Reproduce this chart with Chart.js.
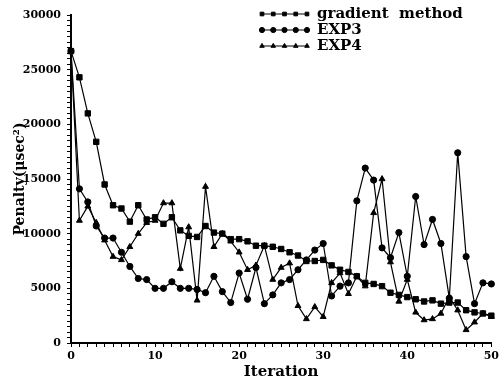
<!DOCTYPE html>
<html>
<head>
<meta charset="utf-8">
<script src="https://cdn.jsdelivr.net/npm/chart.js@4.4.0/dist/chart.umd.min.js"></script>
<style>
  html, body { margin: 0; padding: 0; background: #fff; }
</style>
</head>
<body>
<canvas id="penaltyChart" width="502" height="381"></canvas>
<script>
  // Itérations (axe X)
  const iterations = [0, 1, 2, 3, 4, 5, 6, 7, 8, 9, 10, 11, 12, 13, 14, 15, 16, 17, 18, 19, 20,
    21, 22, 23, 24, 25, 26, 27, 28, 29, 30, 31, 32, 33, 34, 35, 36, 37, 38, 39, 40,
    41, 42, 43, 44, 45, 46, 47, 48, 49, 50];

  // Pénalités
  const gradientMethod = [26700, 24300, 21000, 18400, 14500, 12600, 12300, 11100, 12600, 11300, 11500,
    10900, 11500, 10300, 9800, 9700, 10700, 10100, 10000, 9500, 9500,
    9300, 8900, 8900, 8800, 8600, 8300, 8000, 7500, 7500, 7600,
    7100, 6700, 6500, 6100, 5500, 5400, 5200, 4600, 4400, 4200,
    4000, 3800, 3900, 3600, 3700, 3700, 3000, 2800, 2700, 2500];

  const exp3 = [26700, 14100, 12900, 10700, 9600, 9600, 8300, 7000, 5900, 5800, 5000,
    5000, 5600, 5000, 5000, 4900, 4600, 6100, 4700, 3700, 6400,
    4000, 6900, 3600, 4400, 5500, 5800, 6700, 7600, 8500, 9100,
    4300, 5200, 5500, 13000, 16000, 14900, 8700, 7800, 10100, 6100,
    13400, 9000, 11300, 9100, 4100, 17400, 7900, 3600, 5500, 5400];

  const exp4 = [26700, 11200, 12500, 11000, 9400, 7900, 7600, 8800, 10000, 11000, 11200,
    12800, 12800, 6800, 10600, 3900, 14300, 8800, 10000, 9300, 8300,
    6700, 7100, 8900, 5800, 6900, 7300, 3400, 2200, 3300, 2400,
    5500, 6400, 4500, 6100, 5200, 11900, 15000, 7400, 3800, 5800,
    2800, 2100, 2200, 2700, 4200, 3000, 1200, 1900, 2700, 2400];

  const yTicksMajeurs = [0, 5000, 10000, 15000, 20000, 25000, 30000];
  const xTicksMajeurs = [0, 10, 20, 30, 40, 50];

  const policeSerif = '"DejaVu Serif", "Liberation Serif", serif';

  /* LEGENDE DANS LE GRAPHIQUE (ligne + 5 marqueurs) */
  const legendeInterne = {
    id: "legendeInterne",
    afterDraw(chart) {
      const ctx = chart.ctx;
      ctx.save();
      chart.data.datasets.forEach((ds, k) => {
        const y = 14 + k * 16;
        ctx.strokeStyle = "#000";
        ctx.fillStyle = "#000";
        ctx.lineWidth = 1;
        ctx.beginPath();
        ctx.moveTo(262, y);
        ctx.lineTo(307, y);
        ctx.stroke();
        for (let m = 0; m < 5; m++) {
          Chart.helpers.drawPoint(ctx, {
            pointStyle: ds.pointStyle,
            radius: 2.6,
            rotation: 0,
            borderWidth: 1
          }, 262 + m * 11.25, y);
        }
        ctx.font = "bold 15px " + policeSerif;
        ctx.textBaseline = "middle";
        ctx.textAlign = "left";
        ctx.fillText(ds.label, 317, y);
      });
      ctx.restore();
    }
  };

  function serie(label, data, style, rayon) {
    return {
      label: label,
      data: data,
      borderColor: "#000",
      backgroundColor: "#000",
      borderWidth: 1.2,
      pointStyle: style,
      pointRadius: rayon,
      pointBackgroundColor: "#000",
      pointBorderColor: "#000",
      pointBorderWidth: 1,
      tension: 0
    };
  }

  const ctx = document.getElementById("penaltyChart").getContext("2d");
  const penaltyChart = new Chart(ctx, {
    type: "line",
    data: {
      labels: iterations,
      datasets: [
        serie("gradient  method", gradientMethod, "rect", 3.8),
        serie("EXP3", exp3, "circle", 3.1),
        serie("EXP4", exp4, "triangle", 3.4)
      ]
    },
    options: {
      responsive: false,
      animation: false,
      layout: { padding: { top: 15, right: 8, left: 0, bottom: 0 } },
      plugins: {
        legend: { display: false },
        tooltip: { enabled: false }
      },
      scales: {
        x: {
          type: "category",
          offset: false,
          afterFit: (scale) => { scale.height = 38; },
          border: { display: true, color: "#000", width: 2 },
          grid: {
            display: true,
            drawOnChartArea: false,
            drawTicks: true,
            tickLength: 4,
            tickColor: "#000",
            tickWidth: 1,
            offset: false
          },
          ticks: {
            autoSkip: false,
            maxRotation: 0,
            padding: 3,
            color: "#000",
            font: { family: policeSerif, size: 11, weight: "bold" },
            callback: (val, i) => (xTicksMajeurs.includes(iterations[i]) ? String(iterations[i]) : "")
          },
          title: {
            display: true,
            text: "Iteration",
            color: "#000",
            font: { family: policeSerif, size: 15, weight: "bold" },
            padding: { top: 0, bottom: 0 }
          }
        },
        y: {
          min: 0,
          max: 30000,
          afterFit: (scale) => { scale.width = 71; },
          border: { display: true, color: "#000", width: 2 },
          grid: {
            display: true,
            drawOnChartArea: false,
            drawTicks: true,
            tickLength: 4,
            tickColor: "#000",
            tickWidth: 1
          },
          ticks: {
            stepSize: 500,
            maxTicksLimit: 100,
            autoSkip: false,
            padding: 6,
            color: "#000",
            font: { family: policeSerif, size: 11, weight: "bold" },
            callback: (v) => (yTicksMajeurs.includes(v) ? String(v) : "")
          },
          title: {
            display: true,
            text: "Penalty(μsec²)",
            color: "#000",
            font: { family: policeSerif, size: 14, weight: "bold" },
            padding: { top: 12, bottom: 0 }
          }
        }
      }
    },
    plugins: [legendeInterne]
  });
</script>
</body>
</html>
